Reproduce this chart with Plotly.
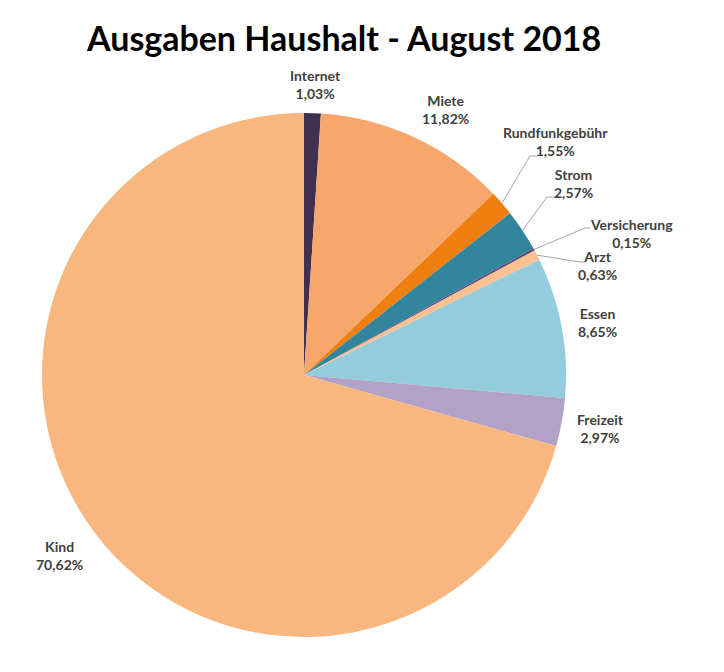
import math

import plotly.graph_objects as go

# Daten: Ausgaben Haushalt August 2018 (Anteile in %)
kategorien = ["Internet", "Miete", "Rundfunkgebühr", "Strom", "Versicherung",
              "Arzt", "Essen", "Freizeit", "Kind"]
anteile = [1.03, 11.82, 1.55, 2.57, 0.15, 0.63, 8.65, 2.97, 70.62]
farben = ["#403152", "#F7A76B", "#EF7F0E", "#31859C", "#604A7B",
          "#FAC090", "#93CDDD", "#B3A2C7", "#F8B77F"]

W, H = 724, 672
OFF = 8  # Seitenrand des Browsers (body margin)
CX, CY, R = 304, 375, 262  # Kreismitte + Radius in Pixel (Seite)

# Beschriftungen (Pixel, Mitte des zweizeiligen Blocks)
LABEL_XY = {
    "Internet": (315, 84), "Miete": (446, 109), "Rundfunkgebühr": (555, 142),
    "Strom": (573, 184), "Versicherung": (631, 233), "Arzt": (597, 265),
    "Essen": (597, 322), "Freizeit": (600, 428), "Kind": (59, 555),
}
# Führungslinien: Knickpunkt -> Ende (Pixel)
LEADER = {
    "Rundfunkgebühr": ((530, 156), (537, 156)),
    "Strom": ((547, 197), (555, 197)),
    "Versicherung": ((585, 228), (590, 228)),
    "Arzt": ((580, 262), (585, 262)),
}


def px(x, y):
    return (x - OFF) / W, 1 - (y - OFF) / H


def pct(v):
    return f"{v:.2f}".replace(".", ",") + "%"


fx, fy = CX - OFF, CY - OFF
fig = go.Figure(go.Pie(
    labels=kategorien, values=anteile, sort=False, direction="clockwise", rotation=0,
    marker=dict(colors=farben, line=dict(width=0)), textinfo="none", hoverinfo="label+percent",
    domain=dict(x=[(fx - R) / W, (fx + R) / W], y=[1 - (fy + R) / H, 1 - (fy - R) / H]),
    showlegend=False,
))

gesamt = sum(anteile)
kum = 0.0
shapes, annos = [], []
for name, v in zip(kategorien, anteile):
    mitte = (kum + v / 2) / gesamt * 2 * math.pi
    kum += v
    lx, ly = LABEL_XY[name]
    annos.append(dict(x=px(lx, ly)[0], y=px(lx, ly)[1], xref="paper", yref="paper",
                      text=f"{name}<br>{pct(v)}", showarrow=False, align="center",
                      xanchor="center", yanchor="middle",
                      font=dict(family="Lato", size=14, color="#404040", weight="bold")))
    if name in LEADER:
        sx, sy = CX + R * math.sin(mitte), CY - R * math.cos(mitte)
        (kx, ky), (ex, ey) = LEADER[name]
        pts = [px(sx, sy), px(kx, ky), px(ex, ey)]
        path = "M {} {} L {} {} L {} {}".format(*[c for p in pts for c in p])
        shapes.append(dict(type="path", path=path, xref="paper", yref="paper",
                           line=dict(color="#A6A6A6", width=1)))

tx, ty = px(343, 38)
annos.append(dict(x=tx, y=ty, xref="paper", yref="paper",
                  text="Ausgaben Haushalt - August 2018", showarrow=False,
                  xanchor="center", yanchor="middle",
                  font=dict(family="Lato", size=34, color="#000000", weight="bold")))

fig.update_layout(
    width=W, height=H, margin=dict(l=0, r=0, t=0, b=0),
    paper_bgcolor="white", plot_bgcolor="white",
    annotations=annos, shapes=shapes,
)

fig.write_html("out.html")
